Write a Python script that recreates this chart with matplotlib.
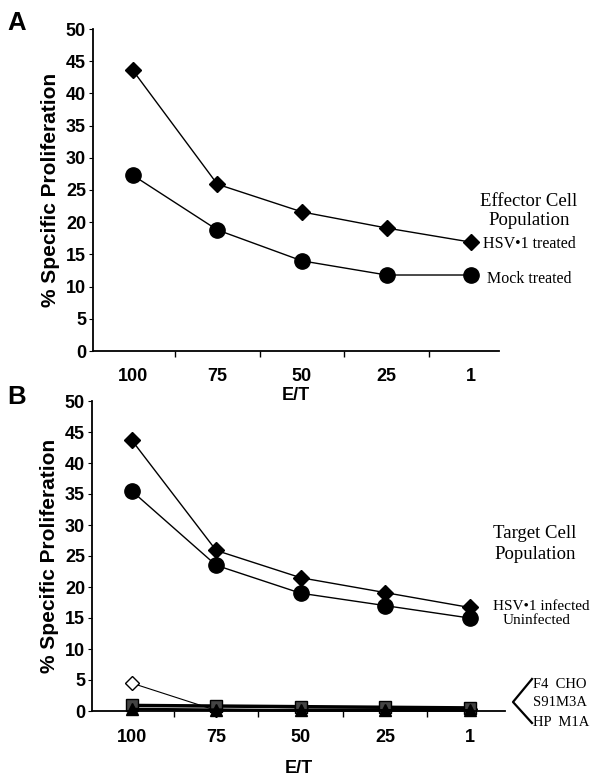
import matplotlib
matplotlib.use("Agg")
import matplotlib.pyplot as plt
from matplotlib.lines import Line2D
import numpy as np

# E/T ratios (categorical x axis)
et_labels = ["100", "75", "50", "25", "1"]

# Panel A: effector cell population
a_hsv_treated = [43.6, 25.9, 21.6, 19.1, 16.9]
a_mock_treated = [27.3, 18.8, 14.0, 11.8, 11.8]

# Panel B: target cell population
b_hsv_infected = [43.7, 25.9, 21.5, 19.1, 16.7]
b_uninfected = [35.5, 23.5, 19.0, 17.0, 15.0]
b_f4_cho = [4.5, 0.1, 0.3, 0.3, 0.3]
b_s91m3a = [0.9, 0.8, 0.7, 0.6, 0.5]
b_hp_m1a = [0.3, 0.2, 0.1, 0.1, 0.1]

W, H = 602, 779
SANS = "Liberation Sans"
SERIF = "Liberation Serif"


def px(x, y):
    return x / W, 1 - y / H


def style_axes(ax, xmax, tick_pad, xlabel_pad):
    x = np.arange(len(et_labels))
    ax.set_xlim(-0.47, xmax)
    ax.set_ylim(0, 50)
    ax.spines["top"].set_visible(False)
    ax.spines["right"].set_visible(False)
    ax.spines["left"].set_linewidth(1.3)
    ax.spines["bottom"].set_linewidth(1.3)
    ax.set_xticks(x)
    ax.set_xticklabels(et_labels, fontsize=13, fontweight="bold", family=SANS)
    ax.set_xticks(x[:-1] + 0.5, minor=True)
    ax.tick_params(axis="x", which="major", length=0, pad=tick_pad)
    ax.tick_params(axis="x", which="minor", length=4, width=1, direction="out")
    ax.set_yticks(np.arange(0, 51, 5))
    ax.set_yticklabels([str(v) for v in range(0, 51, 5)], fontsize=13,
                       fontweight="bold", family=SANS)
    ax.tick_params(axis="y", length=3, width=0.8, pad=2)
    ax.set_ylabel("% Specific Proliferation", fontsize=15, fontweight="bold",
                  family=SANS, labelpad=4)
    ax.set_xlabel("E/T", fontsize=13, fontweight="bold", family=SANS,
                  labelpad=xlabel_pad)


fig = plt.figure(figsize=(W / 100, H / 100), dpi=100)
xs = np.arange(len(et_labels))

# ---- Panel A ----
l, b = px(93, 351)
_, t = px(93, 29)
axA = fig.add_axes([l, b, 499 / W - l, t - b])
axA.plot(xs, a_hsv_treated, color="black", lw=1, marker="D", ms=8.5, clip_on=False)
axA.plot(xs, a_mock_treated, color="black", lw=1, marker="o", ms=11, clip_on=False)
style_axes(axA, 4.33, 12, 2)

fig.text(*px(529, 211), "Effector Cell\nPopulation", family=SERIF, fontsize=13.5,
         ha="center", va="center", linespacing=1.2)
fig.text(*px(483, 244), "HSV\u20221 treated", family=SERIF, fontsize=11.5,
         ha="left", va="center")
fig.text(*px(487, 279), "Mock treated", family=SERIF, fontsize=11.5,
         ha="left", va="center")
fig.text(*px(17, 23), "A", fontsize=18.5, fontweight="bold", family=SANS,
         ha="center", va="center")

# ---- Panel B ----
l, b = px(92, 711)
_, t = px(92, 401)
axB = fig.add_axes([l, b, 505 / W - l, t - b])
axB.plot(xs, b_hsv_infected, color="black", lw=1, marker="D", ms=8.5, clip_on=False)
axB.plot(xs, b_uninfected, color="black", lw=1, marker="o", ms=11, clip_on=False)
axB.plot(xs, b_f4_cho, color="black", lw=0.8, marker="D", ms=7, mfc="white",
         mec="black", clip_on=False)
axB.plot(xs, b_s91m3a, color="black", lw=2.5, marker="s", ms=9, mfc="#444444",
         mec="black", clip_on=False)
axB.plot(xs, b_hp_m1a, color="black", lw=2, marker="^", ms=8, clip_on=False)
style_axes(axB, 4.42, 13, 10)

fig.text(*px(535, 544), "Target Cell\nPopulation", family=SERIF, fontsize=13.5,
         ha="center", va="center", linespacing=1.3)
fig.text(*px(493, 606), "HSV\u20221 infected", family=SERIF, fontsize=11,
         ha="left", va="center")
fig.text(*px(503, 621), "Uninfected", family=SERIF, fontsize=11,
         ha="left", va="center")
for lbl, yy in [("F4  CHO", 685), ("S91M3A", 703), ("HP  M1A", 722)]:
    fig.text(*px(533, yy), lbl, family=SERIF, fontsize=10.5, ha="left", va="center")
bx = [532 / W, 513 / W, 532 / W]
by = [1 - 679 / H, 1 - 702 / H, 1 - 723 / H]
fig.add_artist(Line2D(bx, by, color="black", lw=1.6, transform=fig.transFigure))
fig.text(*px(17, 397), "B", fontsize=18.5, fontweight="bold", family=SANS,
         ha="center", va="center")

fig.savefig("out.png", dpi=100)
